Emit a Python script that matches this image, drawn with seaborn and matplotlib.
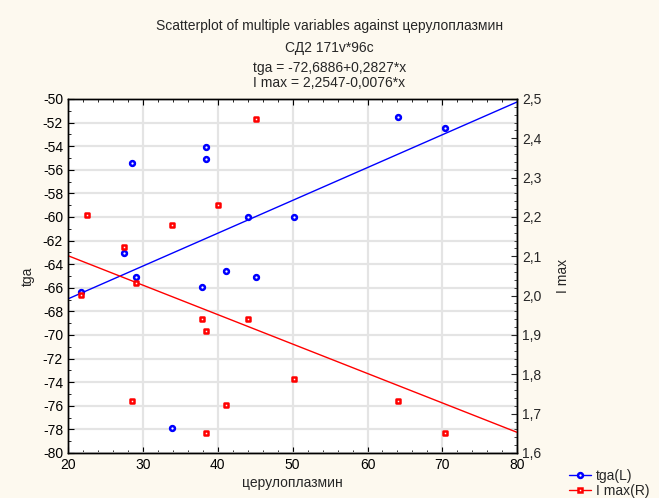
import numpy as np
import pandas as pd
import matplotlib
matplotlib.use("Agg")
import matplotlib.pyplot as plt
import seaborn as sns
from matplotlib.lines import Line2D
from matplotlib.ticker import MultipleLocator, FuncFormatter

# data
cerulo = [21.8, 22.6, 27.5, 28.5, 29.1, 33.9, 37.9, 38.4, 38.4, 40.0,
          41.1, 44.0, 45.1, 50.2, 64.1, 70.3]
tga = [-66.4, np.nan, -63.05, -55.4, -65.05, -77.9, -65.9, -54.1, -55.1, np.nan,
       -64.55, -60.0, -65.05, -60.0, -51.5, -52.5]
i_max = [2.001, 2.205, 2.123, 1.732, 2.032, 2.179, 1.940, 1.910, 1.650, 2.230,
         1.721, 1.940, 2.449, 1.788, 1.732, 1.650]

df = pd.DataFrame({"cerulo": cerulo, "tga": tga, "imax": i_max})

sns.set_style("ticks")
plt.rcParams["font.family"] = ["Liberation Sans", "DejaVu Sans"]
plt.rcParams["axes.unicode_minus"] = False

bg = "#fdf9ef"
fig = plt.figure(figsize=(6.59, 4.98), dpi=100, facecolor=bg)
ax = fig.add_axes([0.103, 0.0904, 0.682, 0.711])
ax.set_facecolor("white")
ax2 = ax.twinx()

ax.set_xlim(20, 80)
ax.set_ylim(-80, -50)
ax2.set_ylim(1.6, 2.5)

# regression lines over the whole x range
sns.regplot(data=df, x="cerulo", y="tga", ax=ax, scatter=False, ci=None,
            truncate=False, color="blue", line_kws={"lw": 1})
sns.regplot(data=df, x="cerulo", y="imax", ax=ax2, scatter=False, ci=None,
            truncate=False, color="red", line_kws={"lw": 1})

sns.scatterplot(data=df, x="cerulo", y="tga", ax=ax, marker="o", s=12,
                facecolor="white", edgecolor="blue", linewidth=1.8, zorder=5)
sns.scatterplot(data=df, x="cerulo", y="imax", ax=ax2, marker="s", s=12,
                facecolor="white", edgecolor="red", linewidth=1.8, zorder=5)

ax.set_xlim(20, 80)
ax.set_ylim(-80, -50)
ax2.set_ylim(1.6, 2.5)

ax.xaxis.set_major_locator(MultipleLocator(10))
ax.xaxis.set_minor_locator(MultipleLocator(2))
ax.yaxis.set_major_locator(MultipleLocator(2))
ax.yaxis.set_minor_locator(MultipleLocator(1))
ax2.yaxis.set_major_locator(MultipleLocator(0.1))
ax2.yaxis.set_minor_locator(MultipleLocator(0.02))
ax2.yaxis.set_major_formatter(FuncFormatter(lambda v, p: f"{v:.1f}".replace(".", ",")))

ax.grid(True, which="major", color="#e4e4e4", lw=1.6)
ax.set_axisbelow(True)

for a in (ax, ax2):
    for s in a.spines.values():
        s.set_visible(True)
        s.set_color("black")
        s.set_linewidth(1)
ax.tick_params(which="both", direction="in", top=True, labelsize=10, colors="black")
ax.tick_params(which="major", length=4)
ax.tick_params(which="minor", length=2.5)
ax2.tick_params(which="both", direction="in", labelsize=10)
ax2.tick_params(which="major", length=4)
ax2.tick_params(which="minor", length=2.5)

ax.set_xlabel("церулоплазмин", fontsize=10, labelpad=3)
ax.set_ylabel("tga", fontsize=10, labelpad=6)
ax2.set_ylabel("I max", fontsize=10, labelpad=10)

fig.text(0.5, 0.948, "Scatterplot of multiple variables against церулоплазмин",
         ha="center", va="center", fontsize=10)
fig.text(0.5, 0.904, "СД2 171v*96c", ha="center", va="center", fontsize=10)
fig.text(0.5, 0.864, "tga = -72,6886+0,2827*x", ha="center", va="center", fontsize=10)
fig.text(0.5, 0.834, "I max = 2,2547-0,0076*x", ha="center", va="center", fontsize=10)

handles = [
    Line2D([], [], color="blue", lw=1, marker="o", ms=3.5, mfc="white", mec="blue", mew=1.8),
    Line2D([], [], color="red", lw=1, marker="s", ms=3.5, mfc="white", mec="red", mew=1.8),
]
fig.legend(handles, ["tga(L)", "I max(R)"], loc="lower right",
           bbox_to_anchor=(1.005, -0.025), frameon=False, fontsize=10,
           handlelength=1.6, handletextpad=0.4, labelspacing=0.05)

fig.savefig("out.png", dpi=100, facecolor=bg)
